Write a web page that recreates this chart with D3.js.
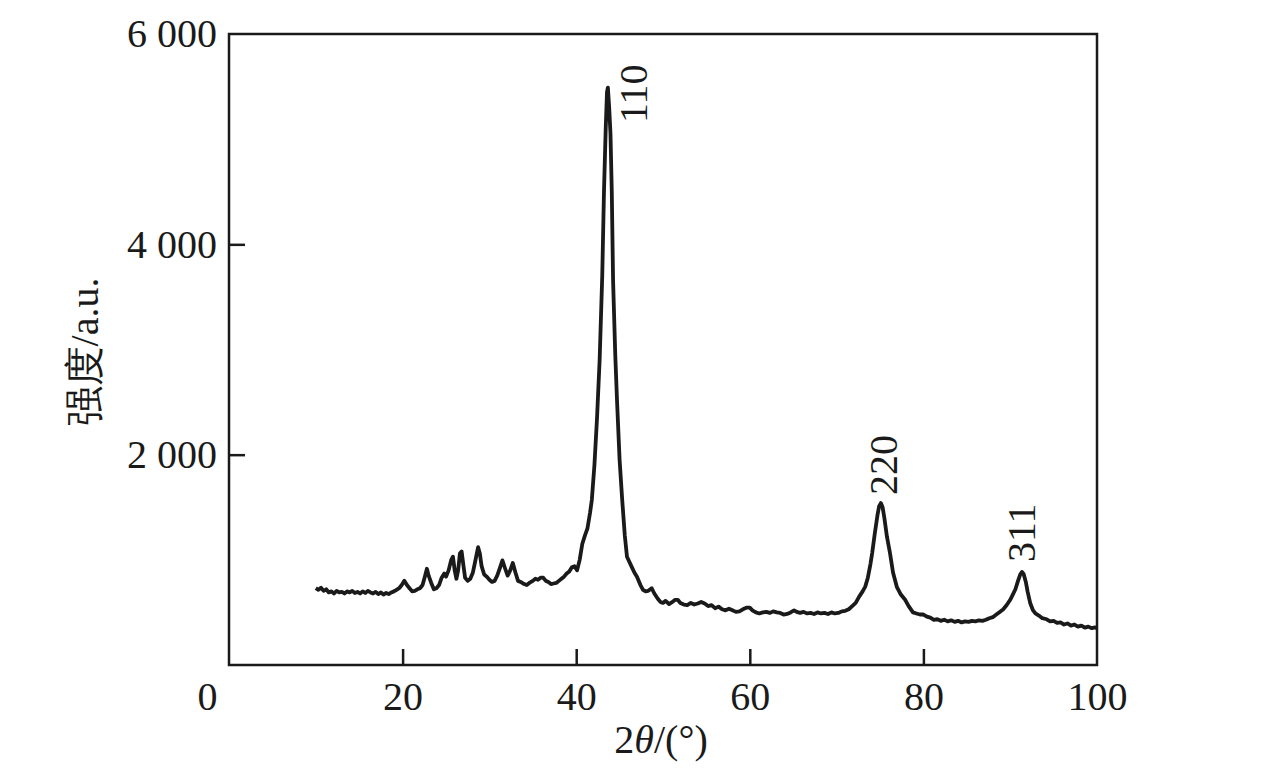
<!DOCTYPE html>
<html><head><meta charset="utf-8">
<script src="https://cdn.jsdelivr.net/npm/d3@7/dist/d3.min.js"></script>
<style>
html,body{margin:0;padding:0;background:#fff;}
text{font-family:"Liberation Serif","Times New Roman",serif;fill:#1a1a1a;}
</style></head>
<body>
<svg id="chart" width="1276" height="770"></svg>
<script>
// ---- data ----
const twoTheta = [
10.0,10.3,10.6,10.9,11.2,11.5,11.8,12.1,12.4,12.7,13.0,13.3,13.6,13.9,14.2,14.5,14.8,15.1,15.4,15.7,
16.0,16.3,16.6,16.9,17.2,17.5,17.8,18.1,18.4,18.7,19.0,19.3,19.6,19.9,20.2,20.5,20.8,21.1,21.4,21.7,
22.0,22.3,22.6,22.8,23.0,23.3,23.6,23.9,24.2,24.5,24.8,25.0,25.3,25.6,25.8,26.0,26.2,26.4,26.6,26.8,
27.0,27.2,27.5,27.8,28.1,28.4,28.7,28.9,29.1,29.4,29.7,30.0,30.3,30.6,30.9,31.2,31.5,31.8,32.1,32.4,
32.7,33.0,33.3,33.6,34.0,34.3,34.6,35.0,35.3,35.6,35.9,36.2,36.5,36.8,37.1,37.4,37.7,38.0,38.3,38.6,
38.9,39.2,39.5,39.8,40.1,40.4,40.7,41.0,41.3,41.6,41.8,42.1,42.4,42.7,43.0,43.2,43.4,43.55,43.65,43.8,
43.95,44.1,44.25,44.5,44.7,45.0,45.3,45.6,45.85,46.3,46.7,47.0,47.4,47.7,48.0,48.3,48.7,49.0,49.4,49.7,
50.0,50.3,50.7,51.0,51.4,51.7,52.0,52.4,52.8,53.2,53.6,54.0,54.4,54.8,55.2,55.6,56.0,56.4,56.8,57.2,
57.6,58.0,58.4,58.8,59.2,59.6,60.0,60.3,60.7,61.1,61.5,61.9,62.3,62.7,63.1,63.5,63.9,64.3,64.7,65.1,
65.4,65.8,66.2,66.6,67.0,67.4,67.8,68.2,68.6,69.0,69.4,69.8,70.2,70.6,71.0,71.4,71.8,72.2,72.6,73.0,
73.3,73.6,73.9,74.1,74.4,74.7,74.9,75.1,75.3,75.5,75.8,76.15,76.5,76.95,77.4,77.9,78.3,78.8,79.2,79.6,
80.0,80.4,80.8,81.2,81.6,82.0,82.4,82.8,83.2,83.6,84.0,84.4,84.8,85.2,85.6,86.0,86.4,86.8,87.2,87.6,
88.0,88.4,88.8,89.2,89.6,90.0,90.3,90.6,90.9,91.15,91.35,91.55,91.8,92.0,92.3,92.6,92.9,93.3,93.7,94.2,
94.6,95.0,95.4,95.8,96.2,96.6,97.0,97.4,97.8,98.2,98.6,99.0,99.4,99.8,100.0
];
const intensity = [
730,715,735,705,720,690,700,680,705,690,695,680,700,690,705,685,695,680,700,685,
705,690,680,695,675,690,670,685,675,690,700,715,730,760,800,760,730,700,705,720,
730,760,850,915,850,780,720,730,760,830,870,840,900,1000,1030,900,820,900,1060,1080,
950,830,800,820,880,1000,1120,1060,940,860,840,810,790,800,850,920,995,920,850,900,
970,880,800,790,770,760,780,800,820,810,830,830,800,790,770,775,780,800,820,840,
870,890,930,940,900,1000,1150,1230,1300,1450,1570,1900,2350,2900,3700,4500,5100,5450,5490,5300,
5050,4500,3650,2950,2520,1950,1570,1230,1030,950,880,840,760,715,700,705,730,680,630,600,
590,610,580,595,620,620,590,575,570,590,575,585,600,585,560,570,540,555,530,520,
535,520,505,510,530,545,545,520,500,490,500,505,495,510,500,495,480,485,500,520,
505,495,505,490,495,485,500,490,495,485,500,490,495,510,515,530,560,590,650,700,
745,830,960,1065,1250,1420,1510,1540,1500,1400,1220,1065,880,740,670,620,560,500,490,480,
480,460,450,430,435,420,430,415,425,410,420,405,415,410,420,415,425,420,430,445,
455,480,505,530,570,620,670,720,800,860,885,865,790,700,590,525,490,470,445,435,
415,420,400,405,385,395,375,385,365,375,355,365,350,358,348
];
const xTicks = [0,20,40,60,80,100];
const yTicks = [2000,4000,6000];
const peakLabels = ["110","220","311"];
const peakLabelX = [48.16,76.96,92.86];
const peakLabelY = [5154,1617,979];

// ---- layout ----
const svg = d3.select("#chart");
const L = 229, R = 1097, T = 34, B = 665;
const x = d3.scaleLinear().domain([0,100]).range([L,R]);
const y = d3.scaleLinear().domain([0,6000]).range([B,T]);
const ink = "#1a1a1a";
const fs = 40;
const serif = "'Liberation Serif','Times New Roman',serif";

// frame
svg.append("rect").attr("x",L).attr("y",T).attr("width",R-L).attr("height",B-T)
  .attr("fill","none").attr("stroke",ink).attr("stroke-width",2.5);

// x axis
const gx = svg.append("g").attr("transform",`translate(0,${B})`)
  .call(d3.axisBottom(x).tickValues(xTicks).tickSizeInner(-16).tickSizeOuter(0).tickPadding(17).tickFormat(d=>d));
gx.select(".domain").remove();
gx.selectAll("line").attr("stroke",ink).attr("stroke-width",2.5);
gx.selectAll("text").attr("font-size",fs).attr("font-family",serif).attr("fill",ink);
gx.selectAll(".tick").filter(d=>d===0).select("text").attr("dx",-22);
gx.selectAll(".tick").filter(d=>d===0||d===100).select("line").remove();

// y axis
const gy = svg.append("g").attr("transform",`translate(${L},0)`)
  .call(d3.axisLeft(y).tickValues(yTicks).tickSizeInner(-16).tickSizeOuter(0).tickPadding(12).tickFormat(d=>d3.format(",")(d).replace(","," ")));
gy.select(".domain").remove();
gy.selectAll("line").attr("stroke",ink).attr("stroke-width",2.5);
gy.selectAll(".tick").filter(d=>d===6000).select("line").remove();
gy.selectAll("text").attr("font-size",fs).attr("font-family",serif).attr("fill",ink);

// curve
const pts = twoTheta.map((t,i)=>[t,intensity[i]]);
svg.append("path").datum(pts)
  .attr("fill","none").attr("stroke",ink).attr("stroke-width",3.8).attr("stroke-linejoin","round")
  .attr("d", d3.line().x(d=>x(d[0])).y(d=>y(d[1])));

// peak labels
peakLabels.forEach((s,i)=>{
  const px = x(peakLabelX[i]), py = y(peakLabelY[i]);
  svg.append("text").attr("transform",`translate(${px},${py}) rotate(-90)`)
    .attr("font-size",fs).attr("font-family",serif).attr("fill",ink)
    .attr("text-anchor","start").text(s);
});

// axis titles
const xt = svg.append("text").attr("x",(L+R)/2 - 2).attr("y",753).attr("text-anchor","middle")
  .attr("font-size",fs).attr("font-family",serif).attr("fill",ink);
xt.append("tspan").text("2");
xt.append("tspan").attr("font-style","italic").text("θ");
xt.append("tspan").text("/(°)");

svg.append("text").attr("transform",`translate(98,352) rotate(-90)`)
  .attr("text-anchor","middle").attr("font-size",fs).attr("fill",ink)
  .attr("font-family","'Liberation Serif','Noto Sans CJK SC',serif")
  .text("强度/a.u.");
</script>
</body></html>
